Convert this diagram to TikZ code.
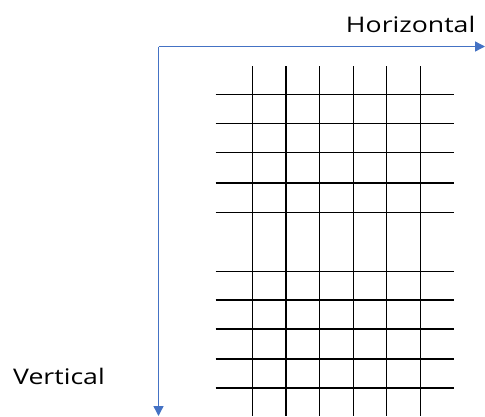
\documentclass[tikz,border=0pt]{standalone}
\usepackage{fontspec}
\setmainfont{Open Sans}
\usetikzlibrary{arrows.meta}
\definecolor{axisblue}{HTML}{4472C4}
\newcommand{\widetext}[1]{\scalebox{1.24}[1]{#1}}
\begin{document}
\begin{tikzpicture}[x=1pt,y=-1pt,
  axis/.style={draw=axisblue,line width=1.4pt,-{Triangle[length=10pt,width=10pt]}},
  gridline/.style={draw=black,line width=1.4pt},
  lbl/.style={font=\fontsize{21.5}{25}\selectfont,inner sep=0pt,text=black}]
\useasboundingbox (0,0) rectangle (485,416);
\coordinate (O) at (158.5,46.5);
\coordinate (H) at (485,46.5);
\coordinate (V) at (158.5,416);
\draw[axis] (O) -- (H);
\draw[axis] (O) -- (V);
\node[lbl,anchor=base east] (hl) at (475.5,32.7) {\widetext{Horizontal}};
\node[lbl,anchor=base west] (vl) at (13,384) {\widetext{Vertical}};
\foreach \x in {252.5,286,319.7,353.3,386.7,420.3}{
  \draw[gridline] (\x,66) -- (\x,416);
}
\foreach \y in {94.7,123.7,152.7,183,212.3,271.3,300,329,359,388}{
  \draw[gridline] (215.5,\y) -- (454,\y);
}
\end{tikzpicture}
\end{document}
